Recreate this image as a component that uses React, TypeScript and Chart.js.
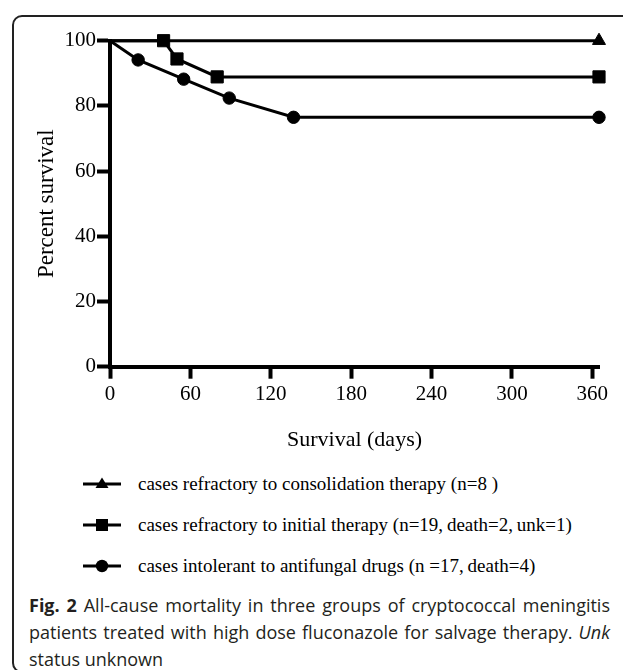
import React, { useEffect, useRef } from "react";
import { Chart, registerables } from "chart.js";

Chart.register(...registerables);

// ---- data ----
const xTickValues = [0, 60, 120, 180, 240, 300, 360];
const yTickValues = [0, 20, 40, 60, 80, 100];
const xMax = 365;

const consolidationDays = [0, 365];
const consolidationSurvival = [100, 100];

const initialDays = [0, 40, 50, 80, 365];
const initialSurvival = [100, 100, 94.4, 88.9, 88.9];

const intolerantDays = [0, 21, 55, 89, 137, 365];
const intolerantSurvival = [100, 94.1, 88.2, 82.4, 76.5, 76.5];

const seriesLabels = [
  "cases refractory to consolidation therapy (n=8\u00a0)",
  "cases refractory to initial therapy (n=19,\u2009death=2,\u2009unk=1)",
  "cases intolerant to antifungal drugs (n\u00a0=17,\u2009death=4)",
];
const xTitle = "Survival (days)";
const yTitle = "Percent survival";

// ---- layout constants ----
const CW = 623;
const CH = 470;
const AREA_RIGHT = 599;
const AREA_LEFT = 110;
const AREA_TOP = 40.7;
const AREA_BOTTOM = 366.7;

const SERIF = "'Liberation Serif', 'Times New Roman', serif";
const SANS = "'Open Sans', 'Noto Sans', sans-serif";

function makeSet(label: string, xs: number[], ys: number[], style: any, radius: number) {
  return {
    label,
    data: xs.map((x, i) => ({ x, y: ys[i] })),
    borderColor: "#000",
    backgroundColor: "#000",
    borderWidth: 3,
    pointStyle: style,
    pointRadius: xs.map((x) => (x === 0 ? 0 : radius)),
    pointHoverRadius: xs.map((x) => (x === 0 ? 0 : radius)),
    pointBorderColor: "#000",
    pointBackgroundColor: "#000",
    pointBorderWidth: 1,
    tension: 0,
    clip: false as any,
  };
}

function LegendIcon({ kind }: { kind: string }) {
  return (
    <svg width="40" height="18" viewBox="0 0 40 18" style={{ display: "block" }}>
      <line x1="1" y1="9" x2="39" y2="9" stroke="#000" strokeWidth="3" />
      {kind === "triangle" && <polygon points="20,2.5 26.5,13 13.5,13" fill="#000" />}
      {kind === "rect" && <rect x="14" y="3" width="12" height="12" fill="#000" />}
      {kind === "circle" && <circle cx="20" cy="9" r="6.2" fill="#000" />}
    </svg>
  );
}

export default function App() {
  const ref = useRef<HTMLCanvasElement | null>(null);

  useEffect(() => {
    if (!ref.current) return;
    const tickFont = { family: SERIF, size: 21 };
    const chart = new Chart(ref.current, {
      type: "line",
      data: {
        datasets: [
          makeSet(seriesLabels[0], consolidationDays, consolidationSurvival, "triangle", 7.5),
          makeSet(seriesLabels[1], initialDays, initialSurvival, "rect", 8.6),
          makeSet(seriesLabels[2], intolerantDays, intolerantSurvival, "circle", 6.2),
        ] as any,
      },
      options: {
        animation: false,
        responsive: false,
        events: [],
        layout: { padding: { left: 0, right: CW - AREA_RIGHT, top: AREA_TOP, bottom: 0 } },
        plugins: { legend: { display: false }, tooltip: { enabled: false } },
        scales: {
          x: {
            type: "linear",
            min: 0,
            max: xMax,
            afterBuildTicks: (s: any) => {
              s.ticks = xTickValues.map((v) => ({ value: v }));
            },
            afterFit: (s: any) => {
              s.height = CH - AREA_BOTTOM;
            },
            grid: {
              drawOnChartArea: false,
              drawTicks: true,
              tickLength: 12,
              tickWidth: 4,
              tickColor: "#000",
            },
            border: { display: true, width: 4, color: "#000" },
            ticks: {
              color: "#000",
              font: tickFont,
              padding: 3,
              maxRotation: 0,
              autoSkip: false,
            },
            title: {
              display: true,
              text: xTitle,
              color: "#000",
              font: { family: SERIF, size: 22 },
              padding: { top: 0, bottom: 16.8 },
            },
          },
          y: {
            type: "linear",
            min: 0,
            max: 100,
            afterBuildTicks: (s: any) => {
              s.ticks = yTickValues.map((v) => ({ value: v }));
            },
            afterFit: (s: any) => {
              s.width = AREA_LEFT;
            },
            grid: {
              drawOnChartArea: false,
              drawTicks: true,
              tickLength: 13,
              tickWidth: 4,
              tickColor: "#000",
            },
            border: { display: true, width: 4, color: "#000" },
            ticks: { color: "#000", font: tickFont, padding: 1 },
            title: {
              display: true,
              text: yTitle,
              color: "#000",
              font: { family: SERIF, size: 23 },
              padding: { top: 33, bottom: 0 },
            },
          },
        },
      } as any,
    });
    return () => chart.destroy();
  }, []);

  const legendRows = [
    { kind: "triangle", y: 484 },
    { kind: "rect", y: 525 },
    { kind: "circle", y: 566 },
  ];

  return (
    <div
      style={{
        position: "fixed",
        left: 0,
        top: 0,
        width: CW,
        height: 670,
        overflow: "hidden",
        background: "#fff",
      }}
    >
      <div
        style={{
          position: "absolute",
          left: 12,
          top: 15,
          width: 660,
          height: 658,
          border: "2px solid #222",
          borderRadius: 10,
          boxSizing: "border-box",
        }}
      />
      <canvas
        ref={ref}
        width={CW}
        height={CH}
        style={{ position: "absolute", left: 0, top: 0, width: CW, height: CH }}
      />
      {legendRows.map((r, i) => (
        <div
          key={i}
          style={{
            position: "absolute",
            left: 82,
            top: r.y - 12,
            height: 24,
            display: "flex",
            alignItems: "center",
            whiteSpace: "nowrap",
          }}
        >
          <LegendIcon kind={r.kind} />
          <span
            style={{
              marginLeft: 16,
              fontFamily: SERIF,
              fontSize: 19,
              color: "#000",
              lineHeight: "24px",
            }}
          >
            {seriesLabels[i]}
          </span>
        </div>
      ))}
      <div
        style={{
          position: "absolute",
          left: 29,
          top: 592,
          width: 581,
          fontFamily: SANS,
          fontSize: 18,
          lineHeight: "27px",
          color: "#231f20",
        }}
      >
        <div style={{ textAlign: "justify", textAlignLast: "justify", whiteSpace: "nowrap" } as any}>
          <b>Fig. 2</b> All-cause mortality in three groups of cryptococcal meningitis
        </div>
        <div style={{ textAlign: "justify", textAlignLast: "justify", whiteSpace: "nowrap" } as any}>
          patients treated with high dose fluconazole for salvage therapy. <i>Unk</i>
        </div>
        <div style={{ whiteSpace: "nowrap" }}>status unknown</div>
      </div>
    </div>
  );
}
